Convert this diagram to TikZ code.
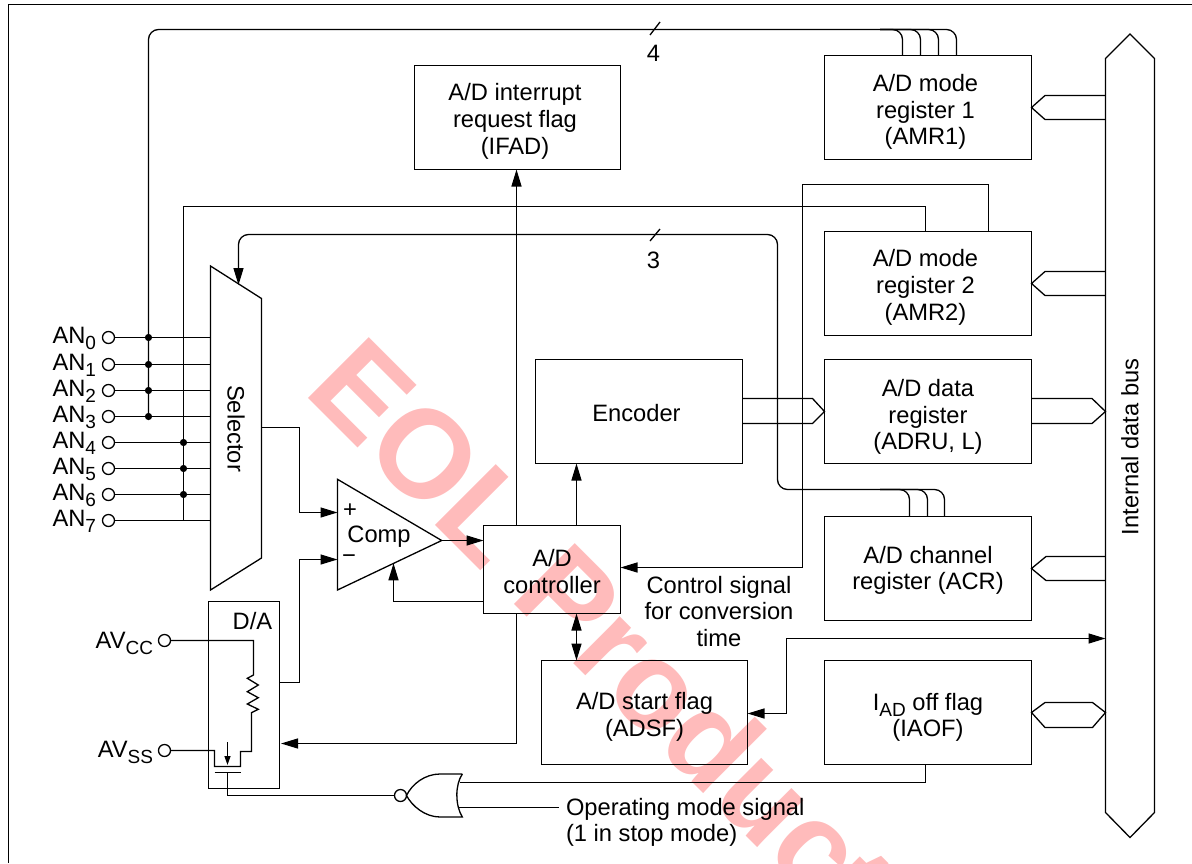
\documentclass[tikz,border=0pt]{standalone}
\usepackage{fontspec}
\setmainfont{Liberation Sans}
\usetikzlibrary{arrows.meta}
\definecolor{MarkPink}{RGB}{255, 187, 187}
\tikzset{
  every node/.style={font=\fontsize{23.7}{26.7}\selectfont, align=center, inner sep=0pt, outer sep=0pt},
  regbox/.style={draw, minimum width=207pt, minimum height=104pt},
  term/.style={draw, circle, minimum size=12pt},
  sig/.style={-{Triangle[length=17pt, width=10pt]}},
  bothsig/.style={{Triangle[length=17pt, width=10pt]}-{Triangle[length=17pt, width=10pt]}},
  anlabel/.style={anchor=base east}
}
\newcommand{\lowsub}[1]{\raisebox{-6pt}{\fontsize{19}{20}\selectfont #1}}

\begin{document}
\begin{tikzpicture}[x=1pt, y=-1pt, line width=1.3pt, line join=miter]
    \useasboundingbox (0,0) rectangle (1192,863);

    % Watermark
    \node[anchor=base west, rotate=-45, text=MarkPink, font=\fontsize{125}{125}\selectfont\bfseries] (mark) at (302,392) {EOL Product};

    % Frame
    \draw (8.5,863) -- (8.5,4.5) -- (1192,4.5);

    % Registers
    \node[regbox] (amr1) at (928,107.5) {};
    \node (amr1l) at (925.5,112) {A/D mode\\register 1\\(AMR1)};
    \node[regbox] (amr2) at (928,283.5) {};
    \node (amr2l) at (925.5,287.5) {A/D mode\\register 2\\(AMR2)};
    \node[regbox] (adr) at (928,411.5) {};
    \node (adrl) at (928,417) {A/D data\\register\\(ADRU, L)};
    \node[regbox] (acr) at (928,568.5) {};
    \node (acrl) at (928,570.5) {A/D channel\\register (ACR)};
    \node[regbox] (iaof) at (928,712.5) {};
    \node (iaofl) at (928,717.5) {I\lowsub{AD} off flag\\(IAOF)};
    \node[regbox, minimum width=206pt] (adsf) at (644.5,712.5) {};
    \node (adsfl) at (644.5,717) {A/D start flag\\(ADSF)};
    \node[regbox] (enc) at (639,411.5) {};
    \node (encl) at (636.5,413.5) {Encoder};
    \node[regbox, minimum width=206pt] (ifad) at (517.5,117.5) {};
    \node (ifadl) at (515,121.5) {A/D interrupt\\request flag\\(IFAD)};
    \node[draw, minimum width=137pt, minimum height=88pt] (ctrl) at (552,569.5) {};
    \node (ctrll) at (552,571.5) {A/D\\controller};

    % Internal data bus
    \draw (1105.5,58.5) -- (1130,34) -- (1154.5,58.5) -- (1154.5,812.5) -- (1130,837.5) -- (1105.5,812.5) -- cycle;
    \node[rotate=90] (busl) at (1130,447) {Internal data bus};
    \coordinate (busw) at (1105.5,447);

    % Bus connections
    \draw (busw |- 0,95.5) -- (1045,95.5) -- (amr1.east) -- (1045,119.5) -- (busw |- 0,119.5);
    \draw (busw |- 0,271.5) -- (1045,271.5) -- (amr2.east) -- (1045,295.5) -- (busw |- 0,295.5);
    \draw (adr.east |- 0,398.5) -- (1092,398.5) -- (busw |- adr) -- (1092,423.5) -- (adr.east |- 0,423.5);
    \draw (busw |- 0,556.5) -- (1046,556.5) -- (acr.east) -- (1046,580.5) -- (busw |- 0,580.5);
    \draw (iaof.east) -- (1045,702.5) -- (1092.5,702.5) -- (busw |- iaof) -- (1092.5,727.5) -- (1045,727.5) -- cycle;
    \draw (enc.east |- 0,398.5) -- (812.5,398.5) -- (adr.west) -- (812.5,423.5) -- (enc.east |- 0,423.5);

    % Selector
    \draw (210.5,266) -- (261.5,298.5) -- (261.5,558) -- (210.5,590) -- cycle;
    \node[rotate=-90] (sel) at (236,428.5) {Selector};
    \coordinate (selw) at (210.5,428);
    \coordinate (sele) at (261.5,427.5);

    % Analog inputs
    \node[term] (t0) at (108.5,337.5) {};
    \node[term] (t1) at (108.5,364.5) {};
    \node[term] (t2) at (108.5,390.5) {};
    \node[term] (t3) at (108.5,416.5) {};
    \node[term] (t4) at (108.5,442.5) {};
    \node[term] (t5) at (108.5,468.5) {};
    \node[term] (t6) at (108.5,494.5) {};
    \node[term] (t7) at (108.5,520.5) {};
    \node[anlabel] (an0) at (96,343.5) {AN\lowsub{0}};
    \node[anlabel] (an1) at (96,370) {AN\lowsub{1}};
    \node[anlabel] (an2) at (96,396) {AN\lowsub{2}};
    \node[anlabel] (an3) at (96,422) {AN\lowsub{3}};
    \node[anlabel] (an4) at (96,448.5) {AN\lowsub{4}};
    \node[anlabel] (an5) at (96,474) {AN\lowsub{5}};
    \node[anlabel] (an6) at (96,500) {AN\lowsub{6}};
    \node[anlabel] (an7) at (96,526.5) {AN\lowsub{7}};
    \draw (t0) -- (t0 -| selw);
    \draw (t1) -- (t1 -| selw);
    \draw (t2) -- (t2 -| selw);
    \draw (t3) -- (t3 -| selw);
    \draw (t4) -- (t4 -| selw);
    \draw (t5) -- (t5 -| selw);
    \draw (t6) -- (t6 -| selw);
    \draw (t7) -- (t7 -| selw);
    \fill (148.5,337.5) circle (3.6pt);
    \fill (148.5,364.5) circle (3.6pt);
    \fill (148.5,390.5) circle (3.6pt);
    \fill (148.5,416.5) circle (3.6pt);
    \fill (183.5,442.5) circle (3.6pt);
    \fill (183.5,468.5) circle (3.6pt);
    \fill (183.5,494.5) circle (3.6pt);

    % Mode register 1 lines
    \coordinate (tap1) at (148.5,416.5);
    \coordinate (tick4) at (655,29.5);
    \draw[rounded corners=10pt] (tap1) -- (tap1 |- tick4) -- (956.5,29.5) -- (956.5,29.5 |- amr1.north);
    \draw[rounded corners=10pt] (880,29.5) -- (902.5,29.5) -- (902.5,29.5 |- amr1.north);
    \draw[rounded corners=10pt] (880,29.5) -- (920.5,29.5) -- (920.5,29.5 |- amr1.north);
    \draw[rounded corners=10pt] (880,29.5) -- (938.5,29.5) -- (938.5,29.5 |- amr1.north);
    \draw (650,35) -- (660,22);
    \node (n4) at (653.5,53) {4};

    % Mode register 2 lines
    \coordinate (tap2) at (183.5,520.5);
    \draw (tap2) -- (183.5,206.5) -- (925.5,206.5) -- (925.5,206.5 |- amr2.north);
    \coordinate (ctl) at (802.5,567.5);
    \draw[sig] (988.5,0 |- amr2.north) -- (988.5,184.5) -- (802.5,184.5) -- (ctl) -- (ctl -| ctrl.east);
    \node (convl) at (719,611.5) {Control signal\\for conversion\\time};

    % Channel register lines
    \coordinate (seltop) at (238.5,285);
    \draw[sig, rounded corners=10pt] (777.5,300) -- (777.5,234.5) -- (238.5,234.5) -- (seltop);
    \draw[rounded corners=10pt] (777.5,300) -- (777.5,489.5) -- (944.5,489.5) -- (944.5,489.5 |- acr.north);
    \draw[rounded corners=10pt] (880,489.5) -- (909.5,489.5) -- (909.5,489.5 |- acr.north);
    \draw[rounded corners=10pt] (880,489.5) -- (927.5,489.5) -- (927.5,489.5 |- acr.north);
    \draw (650,241) -- (660,229);
    \node (n3) at (653.5,260) {3};

    % Comparator
    \coordinate (comptip) at (441.7,540.5);
    \coordinate (compp) at (337.5,512.5);
    \coordinate (compm) at (337.5,559.5);
    \coordinate (compfb) at (393.5,563.3);
    \draw (337.5,479.3) -- (comptip) -- (337.5,590) -- cycle;
    \node (comp) at (379,537) {Comp};
    \node (plus) at (350,511) {+};
    \node (minus) at (349,559) {−};
    \draw[sig] (sele) -- (299.5,427.5) -- (299.5,512.5) -- (compp);
    \draw[sig] (comptip) -- (comptip -| ctrl.west);
    \draw[sig] (ctrl.west |- 0,601.5) -- (393.5,601.5) -- (compfb);

    % Controller connections
    \draw[sig] (516.5,0 |- ctrl.north) -- (516.5,0 |- ifad.south);
    \draw[sig] (576.5,0 |- ctrl.north) -- (576.5,0 |- enc.south);
    \draw[bothsig] (576.5,0 |- ctrl.south) -- (576.5,0 |- adsf.north);

    % D/A block
    \node[draw, minimum width=71pt, minimum height=187pt] (da) at (244,695) {};
    \node (dal) at (252.5,621) {D/A};
    \draw[sig, shorten >=1.5pt] (516.5,0 |- ctrl.south) -- (516.5,743.5) -- (da.east |- 0,743.5);
    \draw[sig] (da.east |- 0,682.5) -- (299.5,682.5) -- (299.5,559.5) -- (compm);
    \node[term] (avcc) at (164.5,640.5) {};
    \node[term] (avss) at (164.5,750.5) {};
    \node[anlabel] (avccl) at (153,648) {AV\lowsub{CC}};
    \node[anlabel] (avssl) at (153,757) {AV\lowsub{SS}};
    \draw (avcc) -- (253.5,640.5) -- (253.5,675) -- (247.3,678.3) -- (258.3,685) -- (247.3,691.7) -- (258.3,697.7) -- (247.3,704) -- (258.3,709.3) -- (251.5,712.7) -- (251.5,751.5) -- (240.5,751.5) -- (240.5,766.5) -- (214.5,766.5) -- (214.5,750.5) -- (avss);
    \draw[-{Triangle[length=9pt, width=6pt]}] (227.5,742) -- (227.5,765);
    \draw (214.5,772.5) -- (240.5,772.5);

    % Start flag connection
    \coordinate (busin) at (1105.5,638.5);
    \draw[bothsig] (busin) -- (786.5,638.5) -- (786.5,713.5) -- (adsf.east |- 0,713.5);

    % NOR gate
    \node[term] (norb) at (400.5,795.5) {};
    \draw (462.3,774) -- (440,774) .. controls (425,774) and (412,784) .. (406.5,795.5) .. controls (412,806) and (425,817) .. (440,817) -- (462.3,817) .. controls (455,805) and (455,785) .. (462.3,774);
    \draw (227.5,772.5) -- (227.5,795.5) -- (norb);
    \draw (925.5,0 |- iaof.south) -- (925.5,782.5) -- (459.5,782.5);
    \node[anchor=west, align=left] (opmode) at (566,822.5) {Operating mode signal\\(1 in stop mode)};
    \draw (458.5,807.5) -- (559,807.5);
\end{tikzpicture}
\end{document}
